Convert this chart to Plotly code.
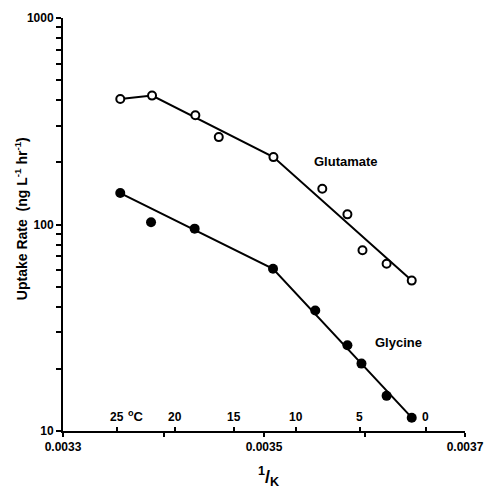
import math
import plotly.graph_objects as go

# Data
glu_x = [0.003357, 0.0033886, 0.0034317, 0.003455, 0.0035094, 0.003558, 0.003583, 0.003598, 0.003622, 0.003647]
glu_y = [405, 421, 338, 265, 212, 149, 112, 75, 64.6, 53.5]
glu_fit_x = [0.003357, 0.0033886, 0.0035094, 0.003647]
glu_fit_y = [405, 421, 212, 53.5]

gly_x = [0.003357, 0.0033876, 0.003431, 0.003509, 0.003551, 0.003583, 0.003597, 0.003622, 0.003647]
gly_y = [142, 102.5, 95.5, 61, 38.3, 26.0, 21.2, 14.8, 11.6]
gly_fit_x = [0.003357, 0.003509, 0.003647]
gly_fit_y = [142, 61, 11.6]

temps_c = [25, 20, 15, 10, 5, 0]
x_ticks = [0.0033, 0.0034, 0.0035, 0.0036, 0.0037]
x_ticktext = ["0.0033", " ", "0.0035", " ", "0.0037"]
y_ticks = [10, 100, 1000]
y_ticktext = ["10", "100", "1000"]
y_minor = [m * d for d in (10, 100) for m in range(2, 10)]

# label anchor positions (1/K, rate)
glu_label = (0.003548, 201)
gly_label = (0.003608, 26.7)

FONT = "Liberation Sans, Arial, sans-serif"
temp_x = [1.0 / (t + 273.15) for t in temps_c]

fig = go.Figure()
fig.add_trace(go.Scatter(x=glu_fit_x, y=glu_fit_y, mode="lines",
                         line=dict(color="black", width=2), showlegend=False, hoverinfo="skip"))
fig.add_trace(go.Scatter(x=gly_fit_x, y=gly_fit_y, mode="lines",
                         line=dict(color="black", width=2), showlegend=False, hoverinfo="skip"))
fig.add_trace(go.Scatter(x=glu_x, y=glu_y, mode="markers", name="Glutamate",
                         marker=dict(symbol="circle", size=8, color="white",
                                     line=dict(color="black", width=2)), showlegend=False))
fig.add_trace(go.Scatter(x=gly_x, y=gly_y, mode="markers", name="Glycine",
                         marker=dict(symbol="circle", size=10, color="black",
                                     line=dict(color="black", width=0)), showlegend=False))
# invisible trace on xaxis2 for temperature ticks
fig.add_trace(go.Scatter(x=temp_x, y=[10]*len(temp_x), xaxis="x2", mode="markers",
                         marker=dict(opacity=0), showlegend=False, hoverinfo="skip"))

fig.update_layout(
    width=485, height=489,
    margin=dict(l=63, r=20, t=18, b=58),
    paper_bgcolor="white", plot_bgcolor="white",
    font=dict(family=FONT, size=12, color="black", weight="bold"),
    xaxis=dict(range=[0.0033, 0.0037], tickvals=x_ticks, ticktext=x_ticktext,
               ticks="outside", ticklen=4, tickwidth=2, tickcolor="black", automargin=False,
               showline=True, linewidth=2, linecolor="black", showgrid=False,
               zeroline=False, tickfont=dict(size=12, weight="bold")),
    xaxis2=dict(range=[0.0033, 0.0037], overlaying="x", anchor="y", side="bottom",
                tickvals=temp_x, ticks="inside", ticklen=4, tickwidth=2, tickcolor="black",
                showticklabels=False, showgrid=False, zeroline=False, showline=False,
                automargin=False),
    yaxis=dict(type="log", range=[1, 3], tickvals=y_ticks, ticktext=y_ticktext,
               ticks="outside", ticklen=5, tickwidth=2, tickcolor="black", automargin=False,
               minor=dict(tickvals=y_minor, ticks="outside", ticklen=5, tickwidth=2,
                          tickcolor="black", showgrid=False),
               showline=True, linewidth=2, linecolor="black", showgrid=False, zeroline=False,
               tickfont=dict(size=12, weight="bold")),
)

annotations = []
for t, xv in zip(temps_c, temp_x):
    annotations.append(dict(x=xv, y=0, xref="x", yref="paper", text=str(t), showarrow=False,
                            xanchor="center", yanchor="bottom", yshift=5,
                            font=dict(size=12, weight="bold")))
annotations.append(dict(x=temp_x[0], y=0, xref="x", yref="paper", text="<sup>o</sup>C",
                        showarrow=False, xanchor="left", yanchor="bottom", xshift=9, yshift=5,
                        font=dict(size=13, weight="bold")))
annotations.append(dict(x=glu_label[0], y=math.log10(glu_label[1]), xref="x", yref="y",
                        text="Glutamate", showarrow=False, xanchor="left", yanchor="middle",
                        font=dict(size=13, weight="bold")))
annotations.append(dict(x=gly_label[0], y=math.log10(gly_label[1]), xref="x", yref="y",
                        text="Glycine", showarrow=False, xanchor="left", yanchor="middle",
                        font=dict(size=13, weight="bold")))
# y-axis title
annotations.append(dict(x=0, y=0.513, xref="paper", yref="paper",
                        text="Uptake Rate  (ng L<sup>-1</sup> hr<sup>-1</sup>)", textangle=-90,
                        showarrow=False, xanchor="center", yanchor="middle", xshift=-42,
                        font=dict(size=14, weight="bold")))
# x-axis title
annotations.append(dict(x=0.5, y=0, xref="paper", yref="paper",
                        text="<sup>1</sup>/<sub>K</sub>", showarrow=False,
                        xanchor="center", yanchor="top", yshift=-31, xshift=4,
                        font=dict(size=18, weight="bold")))
fig.update_layout(annotations=annotations)

fig.write_html("out.html", config={"displayModeBar": False},
               post_script="document.body.style.margin='0';document.body.style.overflow='hidden';")
